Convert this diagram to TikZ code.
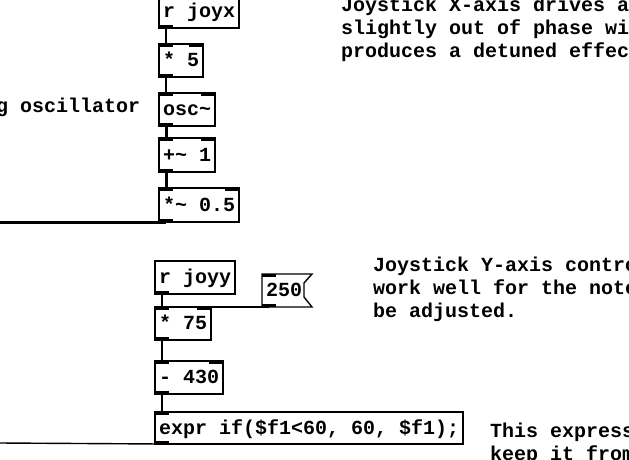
\documentclass[tikz,border=0pt]{standalone}
\usepackage{fontspec}
\setmonofont{Liberation Mono}
\newcommand{\pdfont}{\fontsize{20}{22.6}\selectfont\ttfamily\bfseries}
\tikzset{
  pdobj/.style={draw, line width=1.4pt, anchor=north west, inner xsep=4pt, inner ysep=0pt,
    outer sep=0pt, minimum height=33pt, text height=14pt, text depth=2pt, font=\pdfont},
  pdmsg/.style={pdobj, draw=none},
  pdnote/.style={anchor=base west, align=left, inner sep=0pt, font=\pdfont},
  ctl/.style={line width=1.4pt},
  sig/.style={line width=3pt},
}
\begin{document}
\begin{tikzpicture}[x=1pt, y=-1pt]
    \useasboundingbox (0,0) rectangle (629,459);
    \clip (0,0) rectangle (629,459);

    % upper chain
    \node[pdobj] (joyx) at (159,-5) {r joyx};
    \node[pdobj] (mulfive) at (159,44) {* 5};
    \node[pdobj] (osc) at (159,93) {osc\textasciitilde};
    \node[pdobj, minimum height=34pt] (addone) at (159,138) {+\textasciitilde{} 1};
    \node[pdobj, minimum height=34pt] (mulhalf) at (159,188) {*\textasciitilde{} 0.5};
    \coordinate (outa) at (0,222);

    % lower chain
    \node[pdobj] (joyy) at (155,261) {r joyy};
    \node[pdobj] (mulsev) at (155,307) {* 75};
    \node[pdmsg] (msg) at (262,274) {250};
    \node[pdobj] (subt) at (155,361) {- 430};
    \node[pdobj, minimum height=32pt] (expr) at (155,412) {expr if(\$f1<60, 60, \$f1);};
    \coordinate (outb) at (0,443);

    % message box flag
    \draw[line width=1.4pt] (msg.north west) -- ([xshift=6pt]msg.north east)
        -- ([xshift=-2pt, yshift=-9pt]msg.north east) -- ([xshift=-2pt, yshift=10pt]msg.south east)
        -- ([xshift=6pt]msg.south east) -- (msg.south west) -- cycle;

    % inlets and outlets
    \foreach \n in {mulfive, osc, addone, mulhalf, mulsev, msg, subt, expr}
        \fill (\n.north west) rectangle ++(14,3);
    \foreach \n in {mulfive, osc, addone, mulhalf, mulsev, subt}
        \fill (\n.north east) rectangle ++(-14,3);
    \foreach \n in {joyx, mulfive, osc, addone, mulhalf, joyy, mulsev, msg, subt, expr}
        \fill (\n.south west) rectangle ++(14,-3);

    % wires
    \draw[ctl] ([xshift=7pt]joyx.south west) -- ([xshift=7pt]mulfive.north west);
    \draw[ctl] ([xshift=7pt]mulfive.south west) -- ([xshift=7pt]osc.north west);
    \draw[sig] ([xshift=7pt]osc.south west) -- ([xshift=7pt]addone.north west);
    \draw[sig] ([xshift=7pt]addone.south west) -- ([xshift=7pt]mulhalf.north west);
    \draw[sig] ([xshift=7pt]mulhalf.south west) -- (outa);
    \draw[ctl] ([xshift=7pt]joyy.south west) -- ([xshift=7pt]mulsev.north west);
    \draw[ctl] ([xshift=7pt]msg.south west) -- ([xshift=-7pt]mulsev.north east);
    \draw[ctl] ([xshift=7pt]mulsev.south west) -- ([xshift=7pt]subt.north west);
    \draw[ctl] ([xshift=7pt]subt.south west) -- ([xshift=7pt]expr.north west);
    \draw[ctl] ([xshift=7pt]expr.south west) -- (outb);

    % comments (base = last line)
    \node[pdnote] (noteosc) at (-4,112) {g oscillator};
    \node[pdnote] (notex) at (341,57) {Joystick X-axis drives a\\slightly out of phase wi\\produces a detuned effec};
    \node[pdnote] (notey) at (373,317) {Joystick Y-axis contro\\work well for the note\\be adjusted.};
    \node[pdnote] (noteexpr) at (490,460) {This express\\keep it from};
\end{tikzpicture}
\end{document}
